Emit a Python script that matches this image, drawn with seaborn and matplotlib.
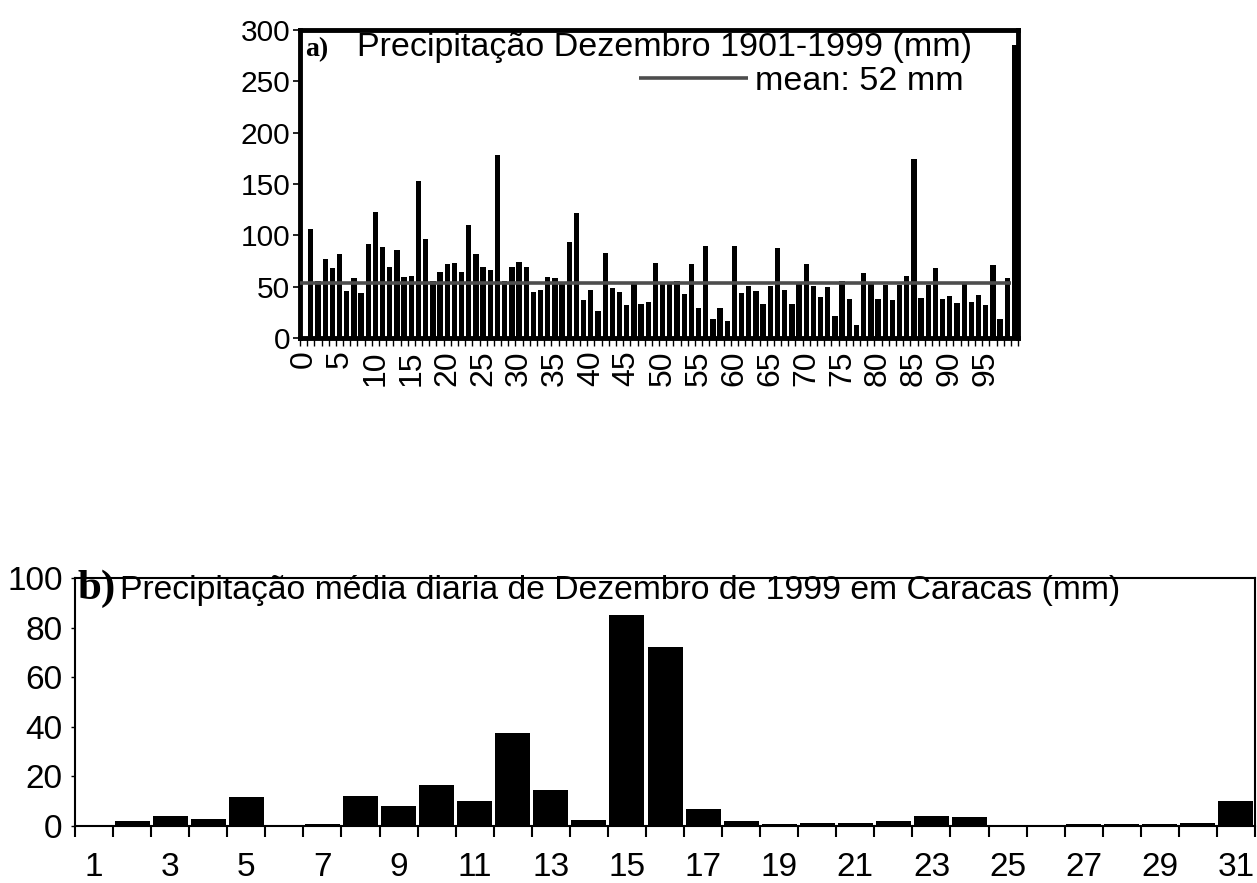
import matplotlib
matplotlib.use("Agg")
import matplotlib.pyplot as plt
import seaborn as sns
import pandas as pd
import numpy as np

# ---- data: panel a) December precipitation 1901-1999 (mm), index 0..99
years = list(range(100))
dec_precip = [0, 106, 56, 77, 68, 82, 46, 58, 44, 92,
              123, 89, 69, 86, 59, 60, 153, 96, 56, 64,
              72, 73, 64, 110, 82, 69, 66, 178, 56, 69,
              74, 69, 45, 47, 59, 58, 53, 94, 122, 37,
              47, 26, 83, 49, 45, 32, 55, 33, 35, 73,
              55, 53, 56, 43, 72, 29, 90, 19, 29, 17,
              90, 44, 51, 46, 33, 51, 88, 47, 33, 55,
              72, 51, 40, 50, 21, 56, 38, 13, 63, 55,
              38, 52, 37, 52, 60, 174, 39, 52, 68, 38,
              41, 34, 53, 35, 42, 32, 71, 19, 58, 285]
mean_value = 54
mean_label = "mean: 52 mm"
title_a = "Precipitação Dezembro 1901-1999 (mm)"
yticks_a = [0, 50, 100, 150, 200, 250, 300]
xtick_labels_a = [str(v) for v in range(0, 100, 5)]

# ---- data: panel b) daily precipitation December 1999, Caracas (mm)
days = list(range(1, 32))
daily_precip = [0.3, 2.2, 4.2, 2.7, 11.5, 0.3, 0.8, 12, 8, 16.5,
                10, 37.5, 14.5, 2.5, 85, 72, 7, 2, 0.6, 1,
                1, 2, 4, 3.5, 0.5, 0.5, 0.6, 0.7, 0.8, 1, 10]
title_b = "Precipitação média diaria de Dezembro de 1999 em Caracas (mm)"
yticks_b = [0, 20, 40, 60, 80, 100]
xtick_labels_b = [str(d) for d in range(1, 32, 2)]

sns.set_style("white")
plt.rcParams["font.family"] = ["Liberation Sans", "DejaVu Sans"]
for key in ["text.color", "xtick.color", "ytick.color", "axes.labelcolor",
            "axes.edgecolor"]:
    plt.rcParams[key] = "black"

fig = plt.figure(figsize=(12.57, 8.83), dpi=100)

# ================= panel a =================
ax1 = fig.add_axes([0.2387, 0.6172, 0.5712, 0.3488])
df1 = pd.DataFrame({"ano": years, "mm": dec_precip})
sns.barplot(data=df1, x="ano", y="mm", color="black", saturation=1,
            width=0.74, linewidth=0, ax=ax1)
n1 = len(years)
ax1.hlines(mean_value, -0.5, n1 - 1.5, color="#4d4d4d", lw=2.6,
           label=mean_label, zorder=3)
ax1.set_xlim(-0.5, n1 - 0.5)
ax1.set_ylim(0, 300)
ax1.set_yticks(yticks_a)
ax1.set_xticks(range(0, n1, 5))
ax1.set_xticklabels(xtick_labels_a)
ax1.set_xticks(np.arange(-0.5, n1, 1), minor=True)
ax1.set_xlabel("")
ax1.set_ylabel("")
ax1.tick_params(axis="x", which="major", length=0, labelrotation=90,
                labelsize=23, pad=9)
ax1.tick_params(axis="x", which="minor", length=6, width=1,
                direction="out", bottom=True)
ax1.tick_params(axis="y", which="major", length=5, width=1.2,
                direction="out", left=True, labelsize=21.5, pad=2)
for sp in ax1.spines.values():
    sp.set_visible(True)
    sp.set_linewidth(3.5)
ax1.text(0.007, 0.935, "a)", transform=ax1.transAxes, ha="left",
         va="center", fontsize=20, fontweight="bold",
         family="Liberation Serif")
ax1.text(0.079, 0.943, title_a, transform=ax1.transAxes, ha="left",
         va="center", fontsize=24.5)
ax1.legend(loc="center right", bbox_to_anchor=(0.943, 0.834),
           frameon=False, fontsize=24.5, handlelength=3.2,
           handletextpad=0.2, borderaxespad=0)

# ================= panel b =================
ax2 = fig.add_axes([0.0597, 0.0646, 0.9387, 0.2809])
df2 = pd.DataFrame({"dia": days, "mm": daily_precip})
sns.barplot(data=df2, x="dia", y="mm", color="black", saturation=1,
            width=0.92, linewidth=0, ax=ax2)
n2 = len(days)
ax2.set_xlim(-0.5, n2 - 0.5)
ax2.set_ylim(0, 100)
ax2.set_yticks(yticks_b)
ax2.set_xticks(range(0, n2, 2))
ax2.set_xticklabels(xtick_labels_b)
ax2.set_xticks(np.arange(-0.5, n2, 1), minor=True)
ax2.set_xlabel("")
ax2.set_ylabel("")
ax2.tick_params(axis="x", which="major", length=0, labelsize=24, pad=19)
ax2.tick_params(axis="x", which="minor", length=8, width=1.5,
                direction="out", bottom=True)
ax2.tick_params(axis="y", which="major", length=3, width=1,
                direction="out", left=True, labelsize=24, pad=6)
for sp in ax2.spines.values():
    sp.set_visible(True)
    sp.set_linewidth(1.5)
ax2.text(0.002, 0.955, "b)", transform=ax2.transAxes, ha="left",
         va="center", fontsize=31, fontweight="bold",
         family="Liberation Serif")
ax2.text(0.038, 0.95, title_b, transform=ax2.transAxes, ha="left",
         va="center", fontsize=24.3)

fig.savefig("out.png", dpi=100)
